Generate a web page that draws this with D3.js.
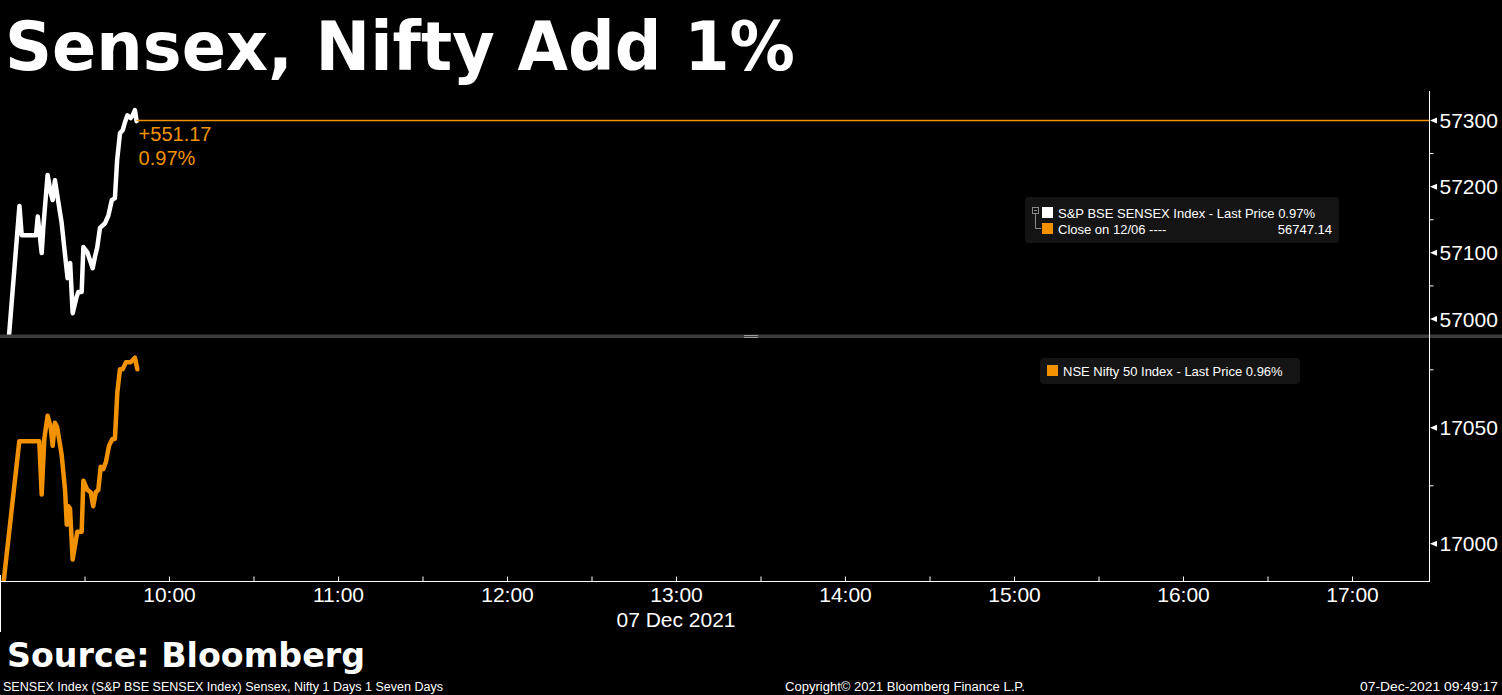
<!DOCTYPE html>
<html>
<head>
<meta charset="utf-8">
<script src="https://cdn.jsdelivr.net/npm/d3@7"></script>
<style>
  html, body { margin: 0; padding: 0; background: #000; }
  svg { display: block; }
</style>
</head>
<body>
<svg id="chart" width="1502" height="695"></svg>
<script>
// ---------------- DATA ----------------
const sensexTimes = ["09:02:30","09:06:54","09:07:42","09:12:48","09:13:24","09:14:48","09:15:24","09:16:54","09:18:00","09:18:42","09:19:30","09:20:18","09:21:54","09:23:24","09:24:00","09:24:54","09:25:48","09:27:12","09:27:48","09:29:00","09:29:36","09:31:00","09:32:54","09:33:42","09:34:30","09:35:30","09:37:18","09:38:30","09:39:42","09:40:48","09:41:36","09:42:36","09:43:36","09:44:24","09:45:12","09:46:24","09:47:06","09:47:54","09:48:30"];
const sensexValues = [56937,57170,57126,57126,57154,57099,57139,57217,57190,57179,57209,57187,57144,57084,57061,57084,57008,57033,57040,57040,57108,57100,57076,57093,57107,57137,57144,57156,57179,57182,57240,57280,57285,57297,57307,57303,57307,57315,57298.31];

const niftyTimes = ["09:01:04","09:06:51","09:13:57","09:14:48","09:15:44","09:16:54","09:18:00","09:18:42","09:19:30","09:20:18","09:21:54","09:23:06","09:23:42","09:24:15","09:24:51","09:25:48","09:27:27","09:29:00","09:29:36","09:31:00","09:32:12","09:33:06","09:34:00","09:34:54","09:35:45","09:36:42","09:37:36","09:38:42","09:39:54","09:40:48","09:41:39","09:42:36","09:43:33","09:44:42","09:46:24","09:47:54","09:48:45"];
const niftyValues = [16981,17044,17044,17021,17045,17055,17050,17042,17052,17050,17038,17023,17008,17016,17015,16993,17005,17005,17027,17023,17022,17016,17022,17023,17033,17032,17035,17042,17045,17045,17065,17075,17075,17078,17078,17080,17075];

const sensexMajorTicks = [57000, 57100, 57200, 57300];
const sensexMinorTicks = [57050, 57150, 57250];
const niftyMajorTicks = [17000, 17050];
const niftyMinorTicks = [17025, 17075];
const hourTickLabels = ["10:00","11:00","12:00","13:00","14:00","15:00","16:00","17:00"];

const sensexPrevClose = 56747.14;
const sensexLast = 57298.31;
const sensexChange = "+551.17";
const sensexPct = "0.97%";

const titleText = "Sensex, Nifty Add 1%";
const sourceText = "Source: Bloomberg";
const dateLabel = "07 Dec 2021";
const footerLeft = "SENSEX Index (S&P BSE SENSEX Index) Sensex, Nifty 1 Days 1 Seven Days";
const footerMid = "Copyright\u00A9 2021 Bloomberg Finance L.P.";
const footerRight = "07-Dec-2021 09:49:17";
const legendTop1 = "S&P BSE SENSEX Index - Last Price 0.97%";
const legendTop2 = "Close on 12/06 ----";
const legendBottom = "NSE Nifty 50 Index - Last Price 0.96%";

// ---------------- SETUP ----------------
const WHITE = "#ffffff";
const ORANGE = "#f39200";
const LABEL_FONT = "'Liberation Sans', Arial, sans-serif";
const BOLD_FONT = "'DejaVu Sans', Verdana, sans-serif";

const svg = d3.select("#chart");
svg.append("rect").attr("width", 1502).attr("height", 695).attr("fill", "#000");

const parseT = d3.timeParse("%H:%M:%S");
const plotRight = 1429;
const x = d3.scaleTime()
  .domain([parseT("09:00:00"), parseT("17:27:20")])
  .range([0, plotRight]);

const topPanel = {y0: 91, y1: 335};
const botPanel = {y0: 338, y1: 581};

const yTop = d3.scaleLinear().domain([57000, 57300]).range([318.5, 120]);
const yBot = d3.scaleLinear().domain([17000, 17050]).range([543.3, 427.3]);

const defs = svg.append("defs");
defs.append("clipPath").attr("id", "clipTop").append("rect")
  .attr("x", 0).attr("y", topPanel.y0).attr("width", plotRight).attr("height", topPanel.y1 - topPanel.y0);
defs.append("clipPath").attr("id", "clipBot").append("rect")
  .attr("x", 0).attr("y", botPanel.y0).attr("width", plotRight).attr("height", botPanel.y1 - botPanel.y0);

// ---------------- TITLE ----------------
svg.append("text").attr("x", 5).attr("y", 70)
  .attr("font-family", BOLD_FONT).attr("font-weight", "bold").attr("font-size", 68)
  .attr("textLength", 790).attr("lengthAdjust", "spacingAndGlyphs")
  .attr("fill", WHITE).text(titleText);

// ---------------- TOP PANEL ----------------
const sensexData = sensexTimes.map((t, i) => ({t: parseT(t), v: sensexValues[i]}));
const niftyData = niftyTimes.map((t, i) => ({t: parseT(t), v: niftyValues[i]}));

const gTop = svg.append("g").attr("clip-path", "url(#clipTop)");
const lastT = sensexData[sensexData.length - 1].t;
const refY = Math.round(yTop(sensexLast)) - 0.5;
svg.append("line")
  .attr("x1", x(lastT)).attr("x2", plotRight)
  .attr("y1", refY).attr("y2", refY)
  .attr("stroke", ORANGE).attr("stroke-width", 1.3);

gTop.append("path").datum(sensexData)
  .attr("fill", "none").attr("stroke", WHITE).attr("stroke-width", 4.5)
  .attr("stroke-linejoin", "round").attr("stroke-linecap", "round")
  .attr("d", d3.line().x(d => x(d.t)).y(d => yTop(d.v)));

svg.append("text").attr("x", x(lastT) + 2).attr("y", 141)
  .attr("font-family", LABEL_FONT).attr("font-size", 20).attr("fill", ORANGE).text(sensexChange);
svg.append("text").attr("x", x(lastT) + 2).attr("y", 165)
  .attr("font-family", LABEL_FONT).attr("font-size", 20).attr("fill", ORANGE).text(sensexPct);

// ---------------- BOTTOM PANEL ----------------
const gBot = svg.append("g").attr("clip-path", "url(#clipBot)");
gBot.append("path").datum(niftyData)
  .attr("fill", "none").attr("stroke", ORANGE).attr("stroke-width", 4.5)
  .attr("stroke-linejoin", "round").attr("stroke-linecap", "round")
  .attr("d", d3.line().x(d => x(d.t)).y(d => yBot(d.v)));

// ---------------- SEPARATOR ----------------
svg.append("rect").attr("x", 0).attr("y", 334.5).attr("width", 1502).attr("height", 3.5).attr("fill", "#3c3c3c");
svg.append("line").attr("x1", 744).attr("x2", 758).attr("y1", 335.5).attr("y2", 335.5).attr("stroke", "#9a9a9a").attr("stroke-width", 1);
svg.append("line").attr("x1", 744).attr("x2", 758).attr("y1", 337.5).attr("y2", 337.5).attr("stroke", "#9a9a9a").attr("stroke-width", 1);

// ---------------- RIGHT AXES ----------------
svg.append("line").attr("x1", plotRight + 0.5).attr("x2", plotRight + 0.5)
  .attr("y1", topPanel.y0).attr("y2", botPanel.y1 + 0.5).attr("stroke", WHITE).attr("stroke-width", 1);

function drawYAxis(scale, majors, minors) {
  const gMaj = svg.append("g").attr("transform", `translate(${plotRight + 0.5},0)`)
    .call(d3.axisRight(scale).tickValues(majors).tickSize(0).tickPadding(10).tickFormat(d3.format("d")));
  gMaj.select(".domain").remove();
  gMaj.selectAll("text").attr("font-family", LABEL_FONT).attr("font-size", 21).attr("fill", WHITE)
    .attr("dy", "0.36em");
  gMaj.selectAll(".tick").append("path").attr("d", "M0.5,0 L7.5,-3 L7.5,3 Z").attr("fill", WHITE);

  const gMin = svg.append("g").attr("transform", `translate(${plotRight + 0.5},0)`)
    .call(d3.axisRight(scale).tickValues(minors).tickSize(4).tickFormat(""));
  gMin.select(".domain").remove();
  gMin.selectAll("line").attr("stroke", WHITE);
}
drawYAxis(yTop, sensexMajorTicks, sensexMinorTicks);
drawYAxis(yBot, niftyMajorTicks, niftyMinorTicks);

// ---------------- X AXIS ----------------
svg.append("line").attr("x1", 0).attr("x2", plotRight + 1).attr("y1", botPanel.y1 + 0.5).attr("y2", botPanel.y1 + 0.5)
  .attr("stroke", WHITE).attr("stroke-width", 1);
svg.append("line").attr("x1", 0.5).attr("x2", 0.5).attr("y1", 575).attr("y2", 632)
  .attr("stroke", WHITE).attr("stroke-width", 1);

const gxMinor = svg.append("g").attr("transform", `translate(0,${botPanel.y1 + 0.5})`)
  .call(d3.axisBottom(x).ticks(d3.timeMinute.every(30)).tickSize(-5).tickFormat(""));
gxMinor.select(".domain").remove();
gxMinor.selectAll("line").attr("stroke", WHITE);

const hourDates = hourTickLabels.map(h => parseT(h + ":00"));
const gxLab = svg.append("g").attr("transform", `translate(0,${botPanel.y1})`)
  .call(d3.axisBottom(x).tickValues(hourDates).tickSize(0).tickFormat(d3.timeFormat("%H:%M")));
gxLab.select(".domain").remove();
gxLab.selectAll("text").attr("font-family", LABEL_FONT).attr("font-size", 21).attr("fill", WHITE)
  .attr("y", 21).attr("dy", 0);

svg.append("text").attr("x", x(parseT("13:00:00"))).attr("y", 627).attr("text-anchor", "middle")
  .attr("font-family", LABEL_FONT).attr("font-size", 21).attr("fill", WHITE).text(dateLabel);

// ---------------- LEGENDS ----------------
const legTop = svg.append("g");
legTop.append("rect").attr("x", 1025).attr("y", 197).attr("width", 314).attr("height", 46).attr("rx", 4)
  .attr("fill", "#141414");
legTop.append("rect").attr("x", 1032.5).attr("y", 207.5).attr("width", 6).attr("height", 6)
  .attr("fill", "none").attr("stroke", "#8a8a8a").attr("stroke-width", 1);
legTop.append("line").attr("x1", 1034).attr("x2", 1037).attr("y1", 210.5).attr("y2", 210.5).attr("stroke", "#8a8a8a");
legTop.append("path").attr("d", "M1035.5,214 L1035.5,228.5 L1041,228.5").attr("fill", "none").attr("stroke", "#8a8a8a");
legTop.append("rect").attr("x", 1042).attr("y", 207).attr("width", 11).attr("height", 11).attr("fill", WHITE);
legTop.append("rect").attr("x", 1042).attr("y", 223).attr("width", 11).attr("height", 11).attr("fill", ORANGE);
legTop.append("text").attr("x", 1058).attr("y", 217.5).attr("font-family", LABEL_FONT).attr("font-size", 13)
  .attr("fill", WHITE).text(legendTop1);
legTop.append("text").attr("x", 1058).attr("y", 233.5).attr("font-family", LABEL_FONT).attr("font-size", 13)
  .attr("fill", WHITE).text(legendTop2);
legTop.append("text").attr("x", 1332).attr("y", 233.5).attr("text-anchor", "end").attr("font-family", LABEL_FONT)
  .attr("font-size", 13).attr("fill", WHITE).text(d3.format(".2f")(sensexPrevClose));

const legBot = svg.append("g");
legBot.append("rect").attr("x", 1040).attr("y", 358).attr("width", 260).attr("height", 26).attr("rx", 4)
  .attr("fill", "#141414");
legBot.append("rect").attr("x", 1047).attr("y", 365).attr("width", 11).attr("height", 11).attr("fill", ORANGE);
legBot.append("text").attr("x", 1063).attr("y", 375.5).attr("font-family", LABEL_FONT).attr("font-size", 13)
  .attr("fill", WHITE).text(legendBottom);

// ---------------- FOOTER ----------------
svg.append("text").attr("x", 7).attr("y", 667)
  .attr("font-family", BOLD_FONT).attr("font-weight", "bold").attr("font-size", 34)
  .attr("textLength", 358).attr("lengthAdjust", "spacingAndGlyphs")
  .attr("fill", WHITE).text(sourceText);
svg.append("text").attr("x", 3).attr("y", 691).attr("font-family", LABEL_FONT).attr("font-size", 12)
  .attr("textLength", 440).attr("lengthAdjust", "spacingAndGlyphs")
  .attr("fill", WHITE).text(footerLeft);
svg.append("text").attr("x", 785).attr("y", 691).attr("font-family", LABEL_FONT).attr("font-size", 12)
  .attr("textLength", 240).attr("lengthAdjust", "spacingAndGlyphs")
  .attr("fill", WHITE).text(footerMid);
svg.append("text").attr("x", 1360).attr("y", 691).attr("font-family", LABEL_FONT).attr("font-size", 12)
  .attr("textLength", 138).attr("lengthAdjust", "spacingAndGlyphs")
  .attr("fill", WHITE).text(footerRight);
</script>
</body>
</html>
